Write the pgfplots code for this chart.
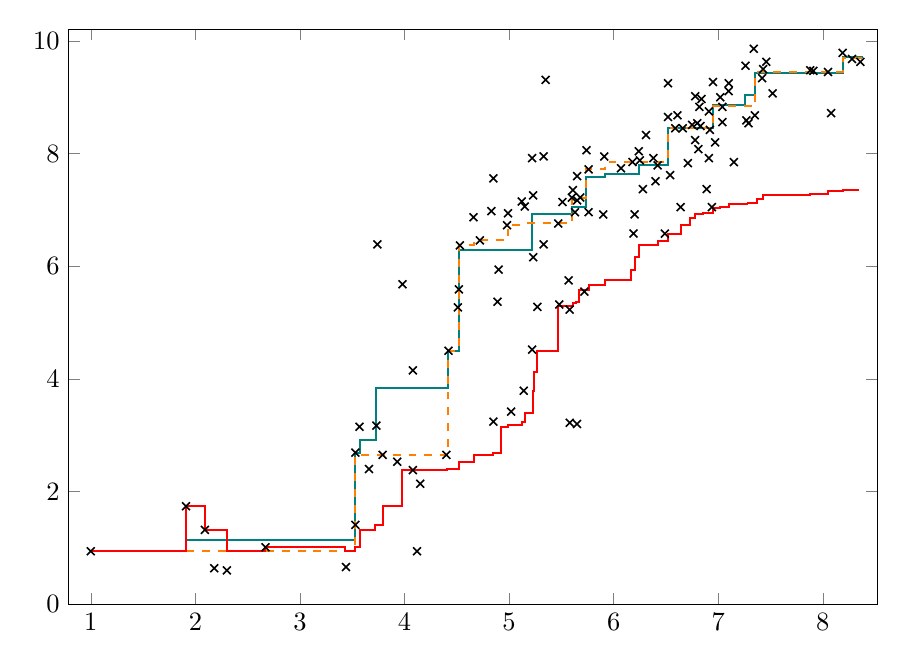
\documentclass[border=0pt]{standalone}
\usepackage{pgfplots}
\pgfplotsset{compat=1.18}
\begin{document}
\begin{tikzpicture}
\begin{axis}[scale only axis, width=305pt, height=217pt,
  xmin=0.79, xmax=8.52, ymin=0, ymax=10.21,
  xtick={1,2,3,4,5,6,7,8}, ytick={0,2,4,6,8,10}]
% teal step
\addplot[teal, const plot, line width=0.75pt] coordinates {
(1.00,0.95) (1.91,1.14) (3.53,2.69) (3.57,2.92) (3.73,3.84) (4.42,4.50) (4.52,6.28)
(5.22,6.92) (5.60,7.06) (5.74,7.58) (5.92,7.63) (6.24,7.79) (6.52,8.45) (6.95,8.86)
(7.26,9.04) (7.35,9.43) (8.19,9.72) (8.38,9.72)};
% orange dashed step
\addplot[orange, const plot, dashed, line width=0.75pt] coordinates {
(1.00,0.95) (3.53,2.65) (4.42,4.50) (4.52,6.37) (4.66,6.46) (4.99,6.74) (5.12,6.76)
(5.60,7.22) (5.74,7.72) (5.92,7.85) (6.52,8.45) (6.95,8.84) (7.35,9.45) (8.19,9.70) (8.38,9.70)};
% red step
\addplot[red, const plot, line width=0.75pt] coordinates {
(1.00,0.95) (1.91,1.74) (2.09,1.32) (2.30,0.95) (2.67,1.01) (3.43,0.94) (3.53,1.01)
(3.57,1.32) (3.72,1.41) (3.79,1.74) (3.98,2.38) (4.41,2.40) (4.52,2.53) (4.66,2.65)
(4.85,2.69) (4.92,3.15) (4.99,3.18) (5.12,3.24) (5.15,3.40) (5.23,3.79) (5.24,4.13)
(5.27,4.50) (5.47,5.30) (5.61,5.34) (5.64,5.37) (5.67,5.57) (5.76,5.66) (5.92,5.75)
(6.17,5.94) (6.20,6.17) (6.24,6.37) (6.42,6.45) (6.52,6.58) (6.64,6.74) (6.73,6.86)
(6.78,6.92) (6.85,6.94) (6.95,7.03) (7.02,7.05) (7.10,7.10) (7.28,7.13) (7.37,7.20)
(7.43,7.27) (7.88,7.29) (8.05,7.34) (8.19,7.36) (8.35,7.36)};
% scatter
\addplot[black, only marks, mark=x, mark size=2.1pt, mark options={line width=0.6pt}] coordinates {
(1.00,0.94) (1.91,1.74) (2.09,1.32) (2.18,0.64) (2.30,0.60) (2.67,1.01) (3.44,0.66)
(3.53,2.69) (3.53,1.41) (3.57,3.15) (3.73,3.17) (3.74,6.39) (3.79,2.65) (3.66,2.40)
(3.93,2.53) (3.98,5.68) (4.08,2.38) (4.08,4.15) (4.12,0.94) (4.15,2.14) (4.40,2.65)
(4.42,4.50) (4.51,5.27) (4.52,5.59) (4.53,6.37) (4.72,6.46) (4.98,6.73) (5.47,6.76)
(6.19,6.58) (5.33,6.39) (5.23,6.16) (4.90,5.94) (4.89,5.37) (5.27,5.28) (5.48,5.32)
(5.58,5.23) (5.57,5.75) (5.72,5.55) (5.22,4.52) (5.14,3.79) (5.02,3.42) (4.85,3.24)
(5.58,3.22) (5.65,3.20) (5.35,9.31) (6.52,9.25) (6.52,8.65) (6.61,8.68) (6.59,8.45)
(6.31,8.33) (5.74,8.06) (5.91,7.95) (5.22,7.92) (5.33,7.95) (6.24,8.04) (6.18,7.85)
(6.25,7.88) (6.07,7.74) (6.38,7.92) (6.42,7.79) (6.54,7.62) (6.40,7.51) (6.28,7.37)
(5.76,7.72) (5.65,7.60) (4.85,7.56) (5.61,7.35) (5.60,7.22) (5.65,7.17) (5.68,7.22)
(5.51,7.14) (5.23,7.26) (5.12,7.15) (5.15,7.06) (4.83,6.98) (4.66,6.87) (4.99,6.94)
(5.63,6.96) (5.76,6.96) (5.90,6.92) (6.20,6.92) (6.49,6.58) (7.34,9.86) (7.46,9.63)
(7.26,9.56) (7.43,9.50) (7.42,9.34) (7.52,9.07) (6.95,9.27) (7.10,9.25) (7.10,9.11)
(6.78,9.02) (6.84,8.97) (7.02,9.00) (6.82,8.83) (6.91,8.75) (7.04,8.83) (7.35,8.68)
(7.27,8.59) (7.29,8.54) (7.04,8.56) (6.75,8.51) (6.80,8.54) (6.83,8.49) (6.92,8.42)
(6.66,8.45) (6.78,8.24) (6.97,8.20) (6.81,8.08) (6.71,7.83) (6.91,7.92) (7.15,7.85)
(6.89,7.37) (6.64,7.05) (6.94,7.05) (7.88,9.48) (7.91,9.47) (8.05,9.45) (8.08,8.72)
(8.19,9.79) (8.28,9.68) (8.36,9.63)};
\end{axis}
\path ([shift={(-26pt,-23pt)}]current axis.south west) rectangle ([shift={(9pt,11pt)}]current axis.north east);
\end{tikzpicture}
\end{document}
